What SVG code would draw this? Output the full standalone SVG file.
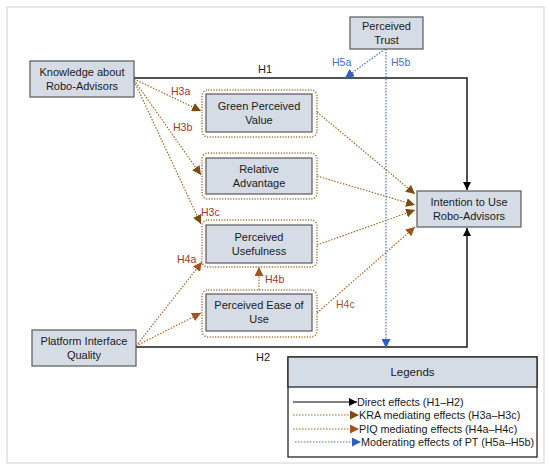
<svg xmlns="http://www.w3.org/2000/svg" width="550" height="471" viewBox="0 0 550 471">
<defs>
<style>
.node{fill:#d6dce5;stroke:#595959;stroke-width:1.2}
.dbox{fill:none;stroke:#a6753f;stroke-width:1.5;stroke-dasharray:1.2 1.5}
.t{font-family:"Liberation Sans",Arial,sans-serif;font-size:11px;fill:#1a1a1a;text-anchor:middle}
.lt{font-family:"Liberation Sans",Arial,sans-serif;font-size:10.8px;fill:#1a1a1a}
.lab{font-family:"Liberation Sans",Arial,sans-serif;font-size:10.5px;fill:#a0342c}
.lab2{font-family:"Liberation Sans",Arial,sans-serif;font-size:10.5px;fill:#9c5a2e}
.labb{font-family:"Liberation Sans",Arial,sans-serif;font-size:10.5px;fill:#4472c4}
.solid{fill:none;stroke:#1a1a1a;stroke-width:1.5}
.kra{fill:none;stroke:#9a6a2a;stroke-width:1.2;stroke-dasharray:1.5 1.5}
.piq{fill:none;stroke:#b0652a;stroke-width:1.2;stroke-dasharray:1.5 1.5}
.blue{fill:none;stroke:#4472c4;stroke-width:1.2;stroke-dasharray:1.5 1.5}
</style>
<marker id="ab" viewBox="0 0 10 10" refX="10" refY="5" markerWidth="8" markerHeight="8" markerUnits="userSpaceOnUse" orient="auto"><path d="M0,0 L10,5 L0,10 z" fill="#000"/></marker>
<marker id="ak" viewBox="0 0 10 10" refX="10" refY="5" markerWidth="9" markerHeight="9" markerUnits="userSpaceOnUse" orient="auto"><path d="M0,0 L10,5 L0,10 z" fill="#7f4a10"/></marker>
<marker id="ap" viewBox="0 0 10 10" refX="10" refY="5" markerWidth="9" markerHeight="9" markerUnits="userSpaceOnUse" orient="auto"><path d="M0,0 L10,5 L0,10 z" fill="#a4531e"/></marker>
<marker id="abl" viewBox="0 0 10 10" refX="10" refY="5" markerWidth="9" markerHeight="9" markerUnits="userSpaceOnUse" orient="auto"><path d="M0,0 L10,5 L0,10 z" fill="#2f5fc0"/></marker>
</defs>
<rect x="7" y="7" width="537" height="456" fill="#fff" stroke="#d9d9d9" stroke-width="1.2"/>

<g id="connectors">
<polyline class="solid" points="134,78 467,78 467,190" marker-end="url(#ab)"/>
<polyline class="solid" points="136,347 467,347 467,228" marker-end="url(#ab)"/>
<line class="kra" x1="134" y1="79" x2="201" y2="111" marker-end="url(#ak)"/>
<line class="kra" x1="134" y1="80" x2="201" y2="175" marker-end="url(#ak)"/>
<line class="kra" x1="134" y1="81" x2="201" y2="224" marker-end="url(#ak)"/>
<line class="piq" x1="136" y1="346" x2="202" y2="262" marker-end="url(#ap)"/>
<line class="piq" x1="136" y1="346" x2="201" y2="313" marker-end="url(#ap)"/>
<line class="piq" x1="259" y1="290" x2="259" y2="267" marker-end="url(#ap)"/>
<line class="kra" x1="317" y1="112" x2="415" y2="194" marker-end="url(#ak)"/>
<line class="kra" x1="317" y1="176" x2="415" y2="205" marker-end="url(#ak)"/>
<line class="kra" x1="317" y1="245" x2="415" y2="210" marker-end="url(#ak)"/>
<line class="piq" x1="317" y1="313" x2="415" y2="227" marker-end="url(#ap)"/>
<line class="blue" x1="385" y1="49" x2="345" y2="78" marker-end="url(#abl)"/>
<line class="blue" x1="386" y1="49" x2="386" y2="348" marker-end="url(#abl)"/>
<text class="t" x="265" y="73">H1</text>
<text class="t" x="263" y="361">H2</text>
<text class="lab" x="171" y="95">H3a</text>
<text class="lab" x="173" y="131">H3b</text>
<text class="lab" x="201" y="216">H3c</text>
<text class="lab" x="177" y="263">H4a</text>
<text class="lab" x="265" y="283">H4b</text>
<text class="lab2" x="336" y="308">H4c</text>
<text class="labb" x="332" y="66">H5a</text>
<text class="labb" x="391" y="66">H5b</text>
</g>

<g id="knowledge">
<rect class="node" x="30" y="61" width="104" height="36"/>
<text class="t" x="82" y="76">Knowledge about</text>
<text class="t" x="82" y="90">Robo-Advisors</text>
</g>
<g id="trust">
<rect class="node" x="350" y="17" width="73" height="32"/>
<text class="t" x="386.5" y="30">Perceived</text>
<text class="t" x="386.5" y="44">Trust</text>
</g>
<g id="platform">
<rect class="node" x="32" y="330" width="104" height="36"/>
<text class="t" x="84" y="345">Platform Interface</text>
<text class="t" x="84" y="359">Quality</text>
</g>
<g id="intention">
<rect class="node" x="417" y="191" width="104" height="36"/>
<text class="t" x="469" y="206">Intention to Use</text>
<text class="t" x="469" y="220">Robo-Advisors</text>
</g>
<g id="gpv">
<rect class="dbox" x="202" y="90" width="115" height="47" rx="6"/>
<rect class="node" x="206" y="94" width="106" height="38"/>
<text class="t" x="259" y="110">Green Perceived</text>
<text class="t" x="259" y="124">Value</text>
</g>
<g id="ra">
<rect class="dbox" x="202" y="153" width="115" height="46" rx="6"/>
<rect class="node" x="206" y="158" width="106" height="36"/>
<text class="t" x="259" y="173">Relative</text>
<text class="t" x="259" y="187">Advantage</text>
</g>
<g id="pu">
<rect class="dbox" x="202" y="220" width="115" height="47" rx="6"/>
<rect class="node" x="206" y="225" width="106" height="38"/>
<text class="t" x="259" y="241">Perceived</text>
<text class="t" x="259" y="255">Usefulness</text>
</g>
<g id="peou">
<rect class="dbox" x="202" y="290" width="115" height="47" rx="6"/>
<rect class="node" x="206" y="294" width="106" height="37"/>
<text class="t" x="259" y="309">Perceived Ease of</text>
<text class="t" x="259" y="323">Use</text>
</g>

<g id="legend">
<rect x="288" y="357" width="249" height="100" fill="#fff" stroke="#262626" stroke-width="1.3"/>
<rect x="288" y="357" width="249" height="30" fill="#d6dce5" stroke="#262626" stroke-width="1.3"/>
<text class="t" x="412.5" y="376" style="font-size:11.5px">Legends</text>
<line x1="293" y1="402" x2="357" y2="402" stroke="#000" stroke-width="1.2" marker-end="url(#ab)"/>
<line class="kra" x1="293" y1="415" x2="359" y2="415" marker-end="url(#ak)"/>
<line class="piq" x1="293" y1="429" x2="359" y2="429" marker-end="url(#ap)"/>
<line class="blue" x1="295" y1="442" x2="361" y2="442" marker-end="url(#abl)"/>
<text class="lt" x="357" y="406">Direct effects (H1–H2)</text>
<text class="lt" x="359" y="419">KRA mediating effects (H3a–H3c)</text>
<text class="lt" x="359" y="433">PIQ mediating effects (H4a–H4c)</text>
<text class="lt" x="361" y="446">Moderating effects of PT (H5a–H5b)</text>
</g>
</svg>
